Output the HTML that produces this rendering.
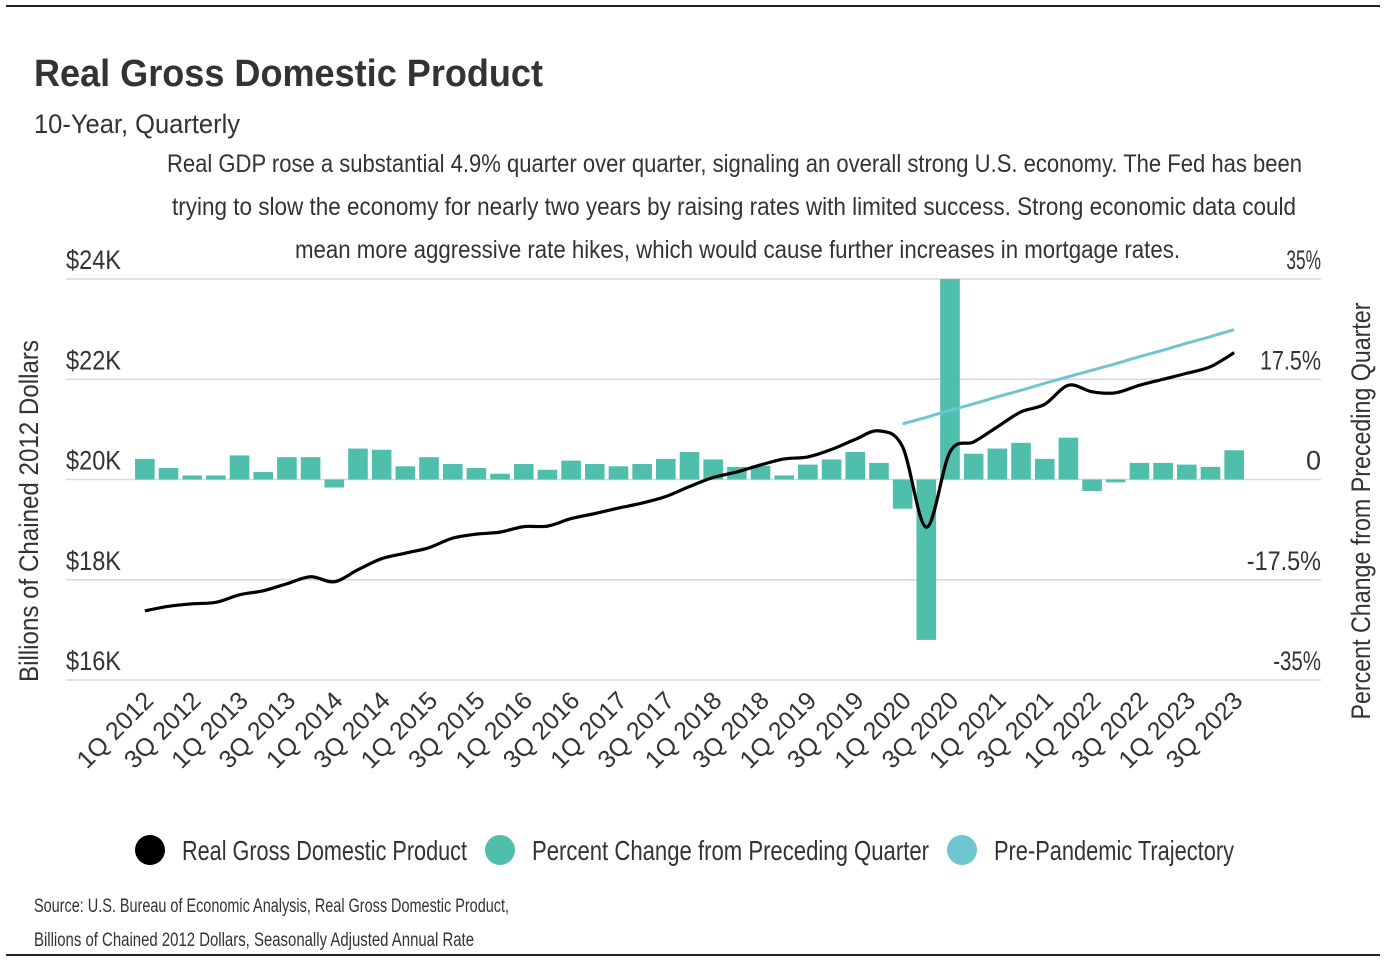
<!DOCTYPE html>
<html><head><meta charset="utf-8"><style>
html,body{margin:0;padding:0;background:#fff;}
svg{display:block;font-family:"Liberation Sans",sans-serif;}
</style></head><body>
<svg id="chart" width="1390" height="968" viewBox="0 0 1390 968">
<line x1="6" y1="6" x2="1380" y2="6" stroke="#222" stroke-width="2"/>
<line x1="6" y1="955" x2="1380" y2="955" stroke="#222" stroke-width="2"/>
<text x="34" y="86" font-size="38" font-weight="bold" fill="#333" textLength="509" lengthAdjust="spacingAndGlyphs">Real Gross Domestic Product</text>
<text x="34" y="133" font-size="27" fill="#333" textLength="206" lengthAdjust="spacingAndGlyphs">10-Year, Quarterly</text>
<g font-size="25" fill="#333">
<text x="167" y="172" textLength="1135" lengthAdjust="spacingAndGlyphs">Real GDP rose a substantial 4.9% quarter over quarter, signaling an overall strong U.S. economy. The Fed has been</text>
<text x="172" y="215" textLength="1124" lengthAdjust="spacingAndGlyphs">trying to slow the economy for nearly two years by raising rates with limited success. Strong economic data could</text>
<text x="295" y="258" textLength="885" lengthAdjust="spacingAndGlyphs">mean more aggressive rate hikes, which would cause further increases in mortgage rates.</text>
</g>
<g id="grid"></g>
<g id="bars"></g>
<g id="lines"></g>
<g id="xlabels"></g>
<text transform="translate(38,511) rotate(-90)" text-anchor="middle" font-size="27" fill="#333" textLength="342" lengthAdjust="spacingAndGlyphs">Billions of Chained 2012 Dollars</text>
<text transform="translate(1370,511) rotate(-90)" text-anchor="middle" font-size="27" fill="#333" textLength="417" lengthAdjust="spacingAndGlyphs">Percent Change from Preceding Quarter</text>
<g font-size="28" fill="#333">
<circle cx="150" cy="850" r="15" fill="#000"/>
<text x="182" y="860" textLength="285" lengthAdjust="spacingAndGlyphs">Real Gross Domestic Product</text>
<circle cx="500" cy="850" r="15" fill="#4fbfab"/>
<text x="532" y="860" textLength="397" lengthAdjust="spacingAndGlyphs">Percent Change from Preceding Quarter</text>
<circle cx="962" cy="850" r="15" fill="#6ec6d0"/>
<text x="994" y="860" textLength="240" lengthAdjust="spacingAndGlyphs">Pre-Pandemic Trajectory</text>
</g>
<g font-size="19" fill="#333">
<text x="34" y="912" textLength="475" lengthAdjust="spacingAndGlyphs">Source:  U.S. Bureau of Economic Analysis, Real Gross Domestic Product,</text>
<text x="34" y="946" textLength="440" lengthAdjust="spacingAndGlyphs">Billions of Chained 2012 Dollars, Seasonally Adjusted Annual Rate</text>
</g>
</svg>
<script>
const quarters = ["1Q 2012","2Q 2012","3Q 2012","4Q 2012","1Q 2013","2Q 2013","3Q 2013","4Q 2013","1Q 2014","2Q 2014","3Q 2014","4Q 2014","1Q 2015","2Q 2015","3Q 2015","4Q 2015","1Q 2016","2Q 2016","3Q 2016","4Q 2016","1Q 2017","2Q 2017","3Q 2017","4Q 2017","1Q 2018","2Q 2018","3Q 2018","4Q 2018","1Q 2019","2Q 2019","3Q 2019","4Q 2019","1Q 2020","2Q 2020","3Q 2020","4Q 2020","1Q 2021","2Q 2021","3Q 2021","4Q 2021","1Q 2022","2Q 2022","3Q 2022","4Q 2022","1Q 2023","2Q 2023","3Q 2023"];
const pctChange = [3.6,2.0,0.7,0.7,4.2,1.3,3.9,3.9,-1.4,5.4,5.2,2.3,3.9,2.7,2.0,1.0,2.7,1.7,3.3,2.7,2.3,2.7,3.6,4.8,3.5,2.2,2.4,0.7,2.6,3.5,4.8,2.9,-5.1,-28.0,35.3,4.5,5.4,6.4,3.6,7.3,-2.0,-0.5,2.9,2.9,2.6,2.2,5.1];
const gdp = [17.38,17.47,17.52,17.55,17.70,17.78,17.92,18.06,17.96,18.20,18.42,18.53,18.64,18.83,18.91,18.95,19.06,19.07,19.22,19.32,19.43,19.53,19.66,19.86,20.04,20.15,20.29,20.41,20.45,20.60,20.80,20.97,20.65,19.05,20.55,20.75,21.05,21.35,21.50,21.88,21.75,21.73,21.88,22.00,22.12,22.25,22.53];
const trajStart = 32;
const trajectory = [21.11,21.24,21.38,21.51,21.65,21.78,21.92,22.05,22.18,22.31,22.45,22.58,22.72,22.85,22.99];
const leftTicks = [16,18,20,22,24];
const leftTickLabels = ["$16K","$18K","$20K","$22K","$24K"];
const rightTicks = [-35,-17.5,0,17.5,35];
const rightTickLabels = ["-35%","-17.5%","0","17.5%","35%"];

const NS="http://www.w3.org/2000/svg";
const X0=133, X1=1246, YT=279, YB=680;
const slot=(X1-X0)/quarters.length;
const xC=i=>X0+slot*(i+0.5);
const yL=v=>YB-(v-16)/(24-16)*(YB-YT);
const yR=v=>YB-(v+35)/70*(YB-YT);
function mk(tag,attrs,parent){const e=document.createElementNS(NS,tag);for(const k in attrs)e.setAttribute(k,attrs[k]);parent.appendChild(e);return e;}
const grid=document.getElementById('grid');
leftTicks.forEach((t,i)=>{
  const y=yL(t);
  const l=mk('line',{x1:66,x2:1321,y1:y,y2:y,stroke:'#d9d9d9','stroke-width':1.5},grid);
  
  
  const tx=mk('text',{x:66,y:y-10,'font-size':27,fill:'#333',textLength:55,lengthAdjust:'spacingAndGlyphs'},grid);
  tx.textContent=leftTickLabels[i];
  
  
});
rightTicks.forEach((t,i)=>{
  const y=yR(t);
  const s=rightTickLabels[i];
  const tx=mk('text',{x:1321,y:y-10,'font-size':27,fill:'#333','text-anchor':'end'},grid);
  tx.textContent=s;
  if(s.length>1){tx.setAttribute('textLength',s.length*13.2-5);tx.setAttribute('lengthAdjust','spacingAndGlyphs');}
  
  
});
const bars=document.getElementById('bars');
pctChange.forEach((v,i)=>{
  const vc=Math.max(-35,Math.min(35,v));
  const y0=yR(0), y1=yR(vc);
  const r=mk('rect',{x:xC(i)-9.8,width:19.6,y:Math.min(y0,y1),height:Math.max(1,Math.abs(y1-y0)),fill:'#4fbfab'},bars);
  
  
});
function smoothPath(pts){
  let d='M'+pts[0][0]+','+pts[0][1];
  for(let i=0;i<pts.length-1;i++){
    const p0=pts[i-1]||pts[i],p1=pts[i],p2=pts[i+1],p3=pts[i+2]||p2;
    const c1=[p1[0]+(p2[0]-p0[0])/6,p1[1]+(p2[1]-p0[1])/6];
    const c2=[p2[0]-(p3[0]-p1[0])/6,p2[1]-(p3[1]-p1[1])/6];
    d+=' C'+c1+' '+c2+' '+p2;
  }
  return d;
}
const lines=document.getElementById('lines');
const tp=mk('path',{d:smoothPath(trajectory.map((v,i)=>[xC(trajStart+i),yL(v)])),fill:'none',stroke:'#6ec6d0','stroke-width':3},lines);


const gp=mk('path',{d:smoothPath(gdp.map((v,i)=>[xC(i),yL(v)])),fill:'none',stroke:'#000','stroke-width':3.2,'stroke-linejoin':'round'},lines);


const xl=document.getElementById('xlabels');
quarters.forEach((q,i)=>{
  if(i%2) return;
  const x=xC(i)+10, y=702;
  const t=mk('text',{transform:'translate('+x+','+y+') rotate(-45)','text-anchor':'end','font-size':25,fill:'#333',textLength:96,lengthAdjust:'spacingAndGlyphs'},xl);
  t.textContent=q;
  
  
});
</script>
</body></html>
